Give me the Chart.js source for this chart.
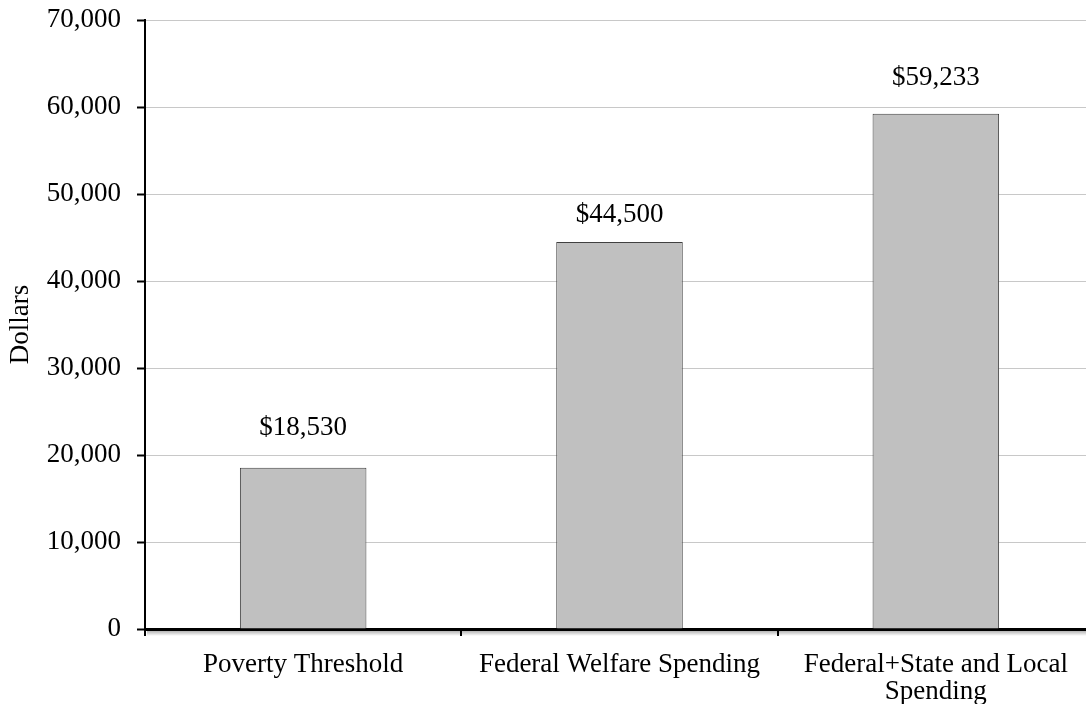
<!DOCTYPE html>
<html>
<head>
<meta charset="utf-8">
<script src="https://cdn.jsdelivr.net/npm/chart.js@4/dist/chart.umd.min.js"></script>
<style>
  html, body { margin: 0; padding: 0; background: #fff; overflow: hidden; }
  #wrap { width: 1094px; height: 716px; position: relative; margin-top: -12px; }
</style>
</head>
<body>
<div id="wrap"><canvas id="chart"></canvas></div>
<script>
// Categories and amounts per poor household
const categories = ['Poverty Threshold', 'Federal Welfare Spending', ['Federal+State and Local', 'Spending']];
const amounts = [18530, 44500, 59233];
const valueLabels = ['$18,530', '$44,500', '$59,233'];

// Axis range
const yMin = 0;
const yMax = 70000;
const yStep = 10000;

// Vertical gap between each bar top and its value label (px)
const labelGaps = [40, 27, 36];

const FONT = "'Liberation Serif', 'Times New Roman', serif";
const FONT_SIZE = 27;

const valueLabelPlugin = {
  id: 'valueLabels',
  afterDatasetsDraw(chart) {
    const ctx = chart.ctx;
    const meta = chart.getDatasetMeta(0);
    ctx.save();
    ctx.font = FONT_SIZE + 'px ' + FONT;
    ctx.fillStyle = '#000';
    ctx.textAlign = 'center';
    ctx.textBaseline = 'middle';
    meta.data.forEach((bar, i) => {
      ctx.fillText(valueLabels[i], bar.x, bar.y - labelGaps[i]);
    });
    ctx.restore();
  }
};

// Soft shadow beneath the category axis line
const axisShadowPlugin = {
  id: 'axisShadow',
  beforeDraw(chart) {
    const a = chart.chartArea;
    const ctx = chart.ctx;
    ctx.save();
    const g = ctx.createLinearGradient(0, a.bottom + 1, 0, a.bottom + 7);
    g.addColorStop(0, 'rgba(0,0,0,0.35)');
    g.addColorStop(1, 'rgba(0,0,0,0)');
    ctx.fillStyle = g;
    ctx.fillRect(a.left + 2, a.bottom + 1, a.right - a.left, 6);
    ctx.restore();
  }
};

new Chart(document.getElementById('chart'), {
  type: 'bar',
  data: {
    labels: categories,
    datasets: [{
      data: amounts,
      backgroundColor: '#c0c0c0',
      borderColor: '#404040',
      borderWidth: 1,
      barPercentage: 0.4,
      categoryPercentage: 1.0
    }]
  },
  options: {
    responsive: true,
    maintainAspectRatio: false,
    animation: false,
    devicePixelRatio: 1,
    layout: { padding: { top: 8, left: 0, right: 0, bottom: 0 } },
    plugins: {
      legend: { display: false },
      tooltip: { enabled: false }
    },
    scales: {
      x: {
        afterFit(scale) { scale.height = 75; },
        grid: {
          offset: true,
          drawOnChartArea: false,
          drawTicks: true,
          tickLength: 7,
          color: '#000',
          lineWidth: 2
        },
        border: { display: true, color: '#000', width: 3 },
        ticks: {
          color: '#000',
          font: { family: FONT, size: FONT_SIZE, lineHeight: 1.0 },
          padding: 15,
          maxRotation: 0,
          autoSkip: false
        }
      },
      y: {
        min: yMin,
        max: yMax,
        afterFit(scale) { scale.width = 145; },
        grid: {
          color: '#c8c8c8',
          lineWidth: 1,
          tickColor: '#000',
          tickLength: 8,
          tickWidth: 2
        },
        border: { display: true, color: '#000', width: 2 },
        ticks: {
          stepSize: yStep,
          color: '#000',
          padding: 16,
          font: { family: FONT, size: FONT_SIZE },
          callback: v => v.toLocaleString('en-US')
        },
        title: {
          display: true,
          text: 'Dollars',
          color: '#000',
          font: { family: FONT, size: FONT_SIZE },
          padding: { top: 5, bottom: 4 }
        }
      }
    }
  },
  plugins: [axisShadowPlugin, valueLabelPlugin]
});
</script>
</body>
</html>
